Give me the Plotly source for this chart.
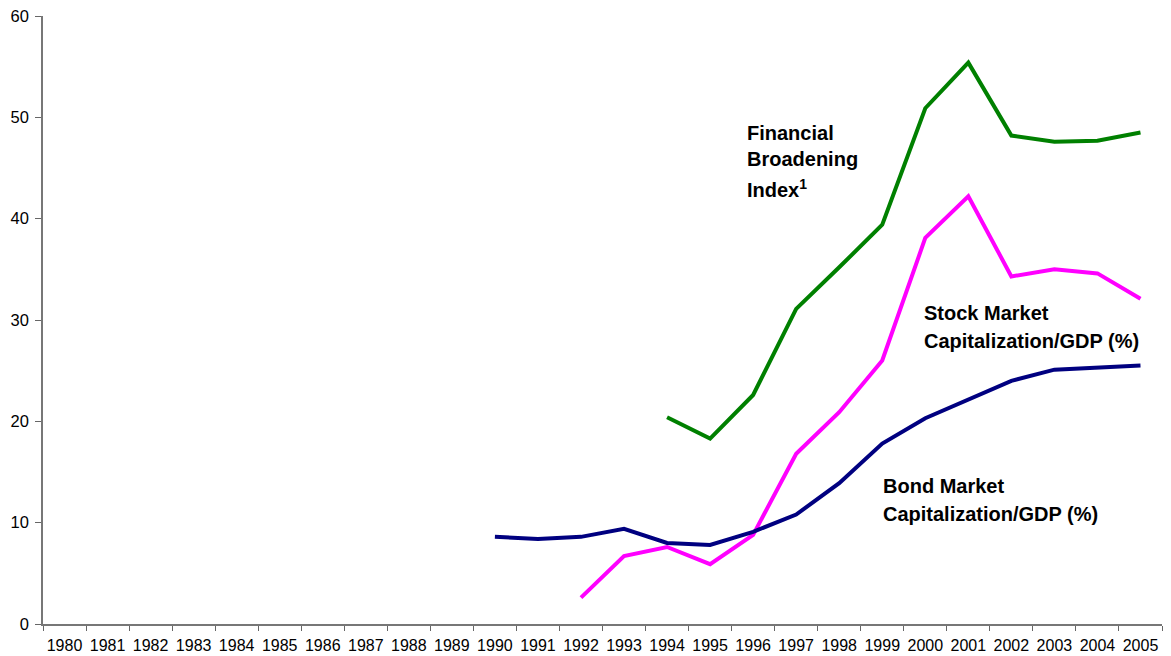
import plotly.graph_objects as go

years = [str(y) for y in range(1980, 2006)]

bond_years = [str(y) for y in range(1990, 2006)]
bond = [8.6, 8.4, 8.6, 9.4, 8.0, 7.8, 9.1, 10.8, 13.9, 17.8, 20.3, 22.2, 24.0, 25.1, 25.3, 25.5]

stock_years = [str(y) for y in range(1992, 2006)]
stock = [2.6, 6.7, 7.6, 5.9, 8.8, 16.8, 20.9, 26.0, 38.1, 42.2, 34.3, 35.0, 34.6, 32.1]

fbi_years = [str(y) for y in range(1994, 2006)]
fbi = [20.4, 18.3, 22.6, 31.1, 35.2, 39.4, 50.9, 55.4, 48.2, 47.6, 47.7, 48.5]

fig = go.Figure()
fig.add_trace(go.Scatter(x=fbi_years, y=fbi, mode="lines",
                         line=dict(color="#008000", width=4), name="Financial Broadening Index"))
fig.add_trace(go.Scatter(x=stock_years, y=stock, mode="lines",
                         line=dict(color="#FF00FF", width=4), name="Stock Market Capitalization/GDP (%)"))
fig.add_trace(go.Scatter(x=bond_years, y=bond, mode="lines",
                         line=dict(color="#000080", width=4), name="Bond Market Capitalization/GDP (%)"))

lab_font = dict(family="Liberation Sans, Arial, sans-serif", size=20, color="black")

def add_label(lines, x, ys):
    for txt, yy in zip(lines, ys):
        fig.add_annotation(x=x, y=yy, xref="x", yref="y", text=txt, showarrow=False,
                           xanchor="left", yanchor="middle", font=lab_font, align="left")

add_label(["<b>Financial</b>", "<b>Broadening</b>", "<b>Index<sup>1</sup></b>"], 15.81,
          [48.5, 45.85, 43.0])
add_label(["<b>Stock Market</b>", "<b>Capitalization/GDP (%)</b>"], 19.92, [30.7, 27.95])
add_label(["<b>Bond Market</b>", "<b>Capitalization/GDP (%)</b>"], 18.97, [13.6, 10.85])

xfont = dict(family="Liberation Sans, Arial, sans-serif", size=16, color="black")
yfont = dict(family="Liberation Sans, Arial, sans-serif", size=16.5, color="black")

fig.update_layout(
    width=1163, height=648,
    margin=dict(l=35, r=9, t=8, b=32),
    paper_bgcolor="white", plot_bgcolor="white",
    showlegend=False,
    xaxis=dict(type="category", categoryorder="array", categoryarray=years,
               range=[-0.5, 25.5], tickvals=years, ticktext=years, tickangle=0,
               tickson="boundaries", ticks="outside", ticklen=5, tickcolor="#666",
               showline=True, linecolor="#777", linewidth=1.5, showgrid=False,
               zeroline=False, tickfont=xfont, ticklabeloverflow="allow", automargin=False,
               ticklabelstandoff=6),
    yaxis=dict(range=[0, 60], dtick=10, ticks="outside", ticklen=6, tickcolor="#666",
               showline=True, linecolor="#777", linewidth=1.5, showgrid=False,
               zeroline=False, tickfont=yfont, ticklabeloverflow="allow", automargin=False,
               ticklabelstandoff=3),
)

fig.write_html("out.html")
